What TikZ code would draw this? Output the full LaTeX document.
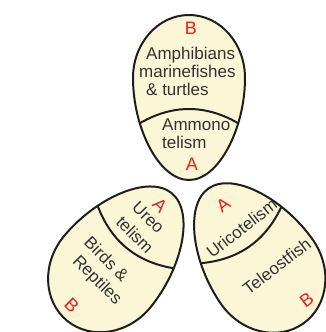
\documentclass[tikz,border=0pt]{standalone}
\usepackage{fontspec}
\setmainfont{Liberation Sans}
\definecolor{eggfill}{RGB}{251,246,214}
\definecolor{eggline}{RGB}{30,30,30}
\definecolor{txt}{RGB}{50,50,50}
\definecolor{redl}{RGB}{232,30,30}
\tikzset{
  eggdraw/.style={fill=eggfill},
  divline/.style={draw=eggline,line width=2pt},
  eggout/.style={draw=eggline,line width=2pt},
  lbl/.style={text=txt,font=\fontsize{17}{18.5}\selectfont,inner sep=0pt},
  letter/.style={text=redl,font=\fontsize{18}{19}\selectfont,inner sep=0pt},
}
\def\eggpath{(56,0) .. controls (56,-50) and (30,-102) .. (0,-102) .. controls (-30,-102) and (-56,-50) .. (-56,0) arc[start angle=180,end angle=0,x radius=56,y radius=63] -- cycle}
\def\divpath{(-75,-64) .. controls (-25,-20) and (25,-20) .. (75,-64)}
\begin{document}
\begin{tikzpicture}[x=1pt,y=1pt]
\useasboundingbox (0,0) rectangle (325,332);
\fill[white] (0,0) rectangle (325,332);
% top egg
\begin{scope}[shift={(189,254)}]
  \path[eggdraw] \eggpath;
  \begin{scope}\clip \eggpath; \draw[divline] \divpath; \end{scope}
  \path[eggout] \eggpath;
\end{scope}
% bottom-left egg
\begin{scope}[shift={(107,60)},rotate=140.6]
  \path[eggdraw] \eggpath;
  \begin{scope}\clip \eggpath; \draw[divline] \divpath; \end{scope}
  \path[eggout] \eggpath;
\end{scope}
% bottom-right egg
\begin{scope}[shift={(267,60)},rotate=215]
  \path[eggdraw] \eggpath;
  \begin{scope}\clip \eggpath; \draw[divline] \divpath; \end{scope}
  \path[eggout] \eggpath;
\end{scope}
% top egg texts
\node[letter,anchor=base] (tB) at (191,297) {B};
\node[lbl,anchor=base west] (t1) at (146,272.7) {Amphibians};
\node[lbl,anchor=base west] (t2) at (139,254.7) {marinefishes};
\node[lbl,anchor=base west] (t3) at (146,236.3) {\& turtles};
\node[lbl,anchor=base west] (t4) at (162,201) {Ammono};
\node[lbl,anchor=base west] (t5) at (162,183) {telism};
\node[letter,anchor=base] (tA) at (192,161) {A};
% bottom-left texts
\node[letter,rotate=-45] (lA) at (160,127) {A};
\node[lbl,rotate=-45] (l1) at (148.3,114.7) {Ureo};
\node[lbl,rotate=-45] (l2) at (135,97) {telism};
\node[lbl,rotate=-45] (l3) at (106.7,73) {Birds \&};
\node[lbl,rotate=-45] (l4) at (96.7,51.3) {Reptiles};
\node[letter,rotate=-45] (lB) at (71.7,27) {B};
% bottom-right texts
\node[letter,rotate=37] (rA) at (223.3,127) {A};
\node[lbl,rotate=38] (r1) at (241.7,103.7) {Uricotelism};
\node[lbl,rotate=37.5] (r2) at (276.7,66) {Teleostfish};
\node[letter,rotate=37] (rB) at (306.7,32) {B};
\end{tikzpicture}
\end{document}
